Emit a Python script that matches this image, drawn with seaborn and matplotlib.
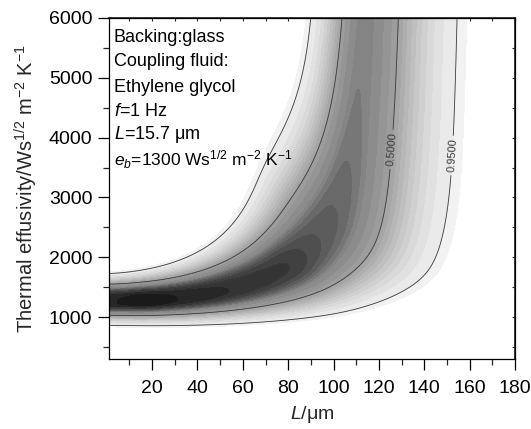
import numpy as np
import matplotlib
matplotlib.use("Agg")
import matplotlib.pyplot as plt
import seaborn as sns

# ---------------- data ----------------
x_major_ticks = [20, 40, 60, 80, 100, 120, 140, 160, 180]
y_major_ticks = [1000, 2000, 3000, 4000, 5000, 6000]
x_limits = (1, 180)
y_limits = (300, 6000)

# ridge of the likelihood surface: (e_ridge0 / e)^(1/ridge_power) + (L / L_vertical)^2 = 1
e_ridge0 = 1235.0          # effusivity of the ridge for thin samples
L_vertical = 120.0         # thickness at which the ridge becomes vertical
ridge_power = 0.7
# position along the ridge (0 = bottom-left, 1 = vertical) and the ridge likelihood there
ridge_pos = [0.0, 0.03, 0.09, 0.165, 0.294, 0.47, 0.515, 0.56, 0.628, 0.691, 0.748, 0.80, 1.0]
ridge_amp = [0.965, 0.97, 1.0, 0.97, 0.94, 0.91, 0.88, 0.85, 0.82, 0.79, 0.76, 0.75, 0.74]
# half-width of the 0.95 region on the upper-left side and the lower-right side
width_in_pos = [0.0, 0.57, 0.72, 1.0]
width_in = [0.477, 0.60, 0.40, 0.40]
width_out_pos = [0.0, 0.406, 0.629, 0.84, 1.0]
width_out = [0.506, 0.67, 0.697, 0.56, 0.55]
# flatness of the profile across the band
shape_pos = [0.0, 0.6, 0.79, 1.0]
shape_in = [3.9, 2.5, 2.0, 2.0]
shape_out = [2.2, 2.5, 2.0, 2.0]

fill_levels = [0.03, 0.05, 0.10, 0.15, 0.20, 0.25, 0.30, 0.35, 0.40, 0.45,
               0.50, 0.58, 0.66, 0.73, 0.76, 0.79, 0.82, 0.85, 0.88, 0.91, 0.94, 0.97, 1.01]
inner_line_level = 0.09
labelled_levels = [0.5, 0.95]

annotation_lines = [
    "Backing:glass",
    "Coupling fluid:",
    "Ethylene glycol",
    r"$f$=1 Hz",
    r"$L$=15.7 $\mathrm{\mu}$m",
    r"$e_b$=1300 Ws$^{1/2}$ m$^{-2}$ K$^{-1}$",
]

# ---------------- style ----------------
sns.set_theme(style="ticks")
plt.rcParams["font.family"] = ["Liberation Sans", "DejaVu Sans"]
plt.rcParams["mathtext.fontset"] = "custom"
plt.rcParams["mathtext.rm"] = "Liberation Sans"
plt.rcParams["mathtext.it"] = "Liberation Sans:italic"
plt.rcParams["mathtext.bf"] = "Liberation Sans:bold"


def smooth_profile(t, pos, vals, half=8):
    t_fine = np.linspace(0, 1, 401)
    f = np.interp(t_fine, pos, vals)
    k = np.ones(2 * half + 1) / (2 * half + 1)
    f = np.convolve(np.pad(f, half, mode="edge"), k, mode="valid")
    f = np.convolve(np.pad(f, half, mode="edge"), k, mode="valid")
    return np.interp(t, t_fine, f)


# ---------------- surface ----------------
L = np.linspace(x_limits[0], x_limits[1], 540)
E = np.linspace(y_limits[0], y_limits[1], 640)
LL, EE = np.meshgrid(L, E)
a = (e_ridge0 / EE) ** (1 / ridge_power)
b = LL / L_vertical
v = np.log(a + b ** 2)
t = np.arctan2(b, np.sqrt(a)) / (np.pi / 2)
amp = smooth_profile(t, ridge_pos, ridge_amp, 5)
w = np.where(v < 0, smooth_profile(t, width_in_pos, width_in, 14),
             smooth_profile(t, width_out_pos, width_out, 14))
p = np.where(v < 0, smooth_profile(t, shape_pos, shape_in, 14),
             smooth_profile(t, shape_pos, shape_out, 14))
likelihood = amp * np.exp(-np.log(amp / 0.05) * (np.abs(v) / w) ** p)
confidence = 1 - likelihood

# ---------------- figure ----------------
fig = plt.figure(figsize=(5.31, 4.29), dpi=100)
ax = fig.add_axes([109 / 531, 1 - 359 / 429, 406 / 531, 341 / 429])

n_light = fill_levels.index(0.73) + 1
n_dark = len(fill_levels) - 1 - n_light
greys = (sns.blend_palette(["#f2f2f2", "#848484"], n_light)
         + sns.blend_palette(["#848484", "#1a1a1a"], n_dark + 1)[1:])
cf = ax.contourf(LL, EE, likelihood, levels=fill_levels, colors=greys)
cf.set_edgecolor("face")
cf.set_linewidth(0.3)
ax.contour(LL, EE, confidence, levels=[inner_line_level], colors="#3a3a3a", linewidths=0.6)
cs = ax.contour(LL, EE, confidence, levels=labelled_levels, colors="#3a3a3a", linewidths=0.6)
ax.clabel(cs, fmt="%.4f", fontsize=8, inline=True, inline_spacing=3,
          manual=[(127.5, 3800), (153, 3700)])

ax.set_xlim(*x_limits)
ax.set_ylim(*y_limits)
ax.set_xticks(x_major_ticks)
ax.set_xticks(np.arange(10, 180, 20), minor=True)
ax.set_yticks(y_major_ticks)
ax.set_yticks(np.arange(500, 6000, 1000), minor=True)
ax.tick_params(axis="both", which="major", direction="out", length=8, width=0.9,
               labelsize=14, colors="black", pad=4)
ax.tick_params(axis="both", which="minor", direction="out", length=4.5, width=0.9)
ax.tick_params(axis="x", which="major", pad=7)
for s in ["top", "right", "left", "bottom"]:
    ax.spines[s].set_visible(True)
    ax.spines[s].set_color("black")
    ax.spines[s].set_linewidth(0.9)

top = ax.secondary_xaxis("top")
top.set_xticks(np.arange(10, 181, 10))
top.tick_params(direction="in", length=2, width=0.8, labeltop=False)
top.set_xticklabels([])
right = ax.secondary_yaxis("right")
right.set_yticks(np.arange(500, 6001, 500))
right.tick_params(direction="in", length=2, width=0.8, labelright=False)
right.set_yticklabels([])

ax.set_xlabel(r"$L$/$\mathrm{\mu}$m", fontsize=14, labelpad=5)
ax.set_ylabel(r"Thermal effusivity/Ws$^{1/2}$ m$^{-2}$ K$^{-1}$", fontsize=14.5, labelpad=6)

line_y_px = [37, 62, 87, 112, 135, 160]
line_sizes = [13, 13, 13, 13, 13, 12.5]
for txt, ypx, fs in zip(annotation_lines, line_y_px, line_sizes):
    ax.text(0.012, 1 - (ypx - 18) / 341, txt, transform=ax.transAxes,
            fontsize=fs, va="center", ha="left", color="black")

fig.savefig("out.png", dpi=100)
